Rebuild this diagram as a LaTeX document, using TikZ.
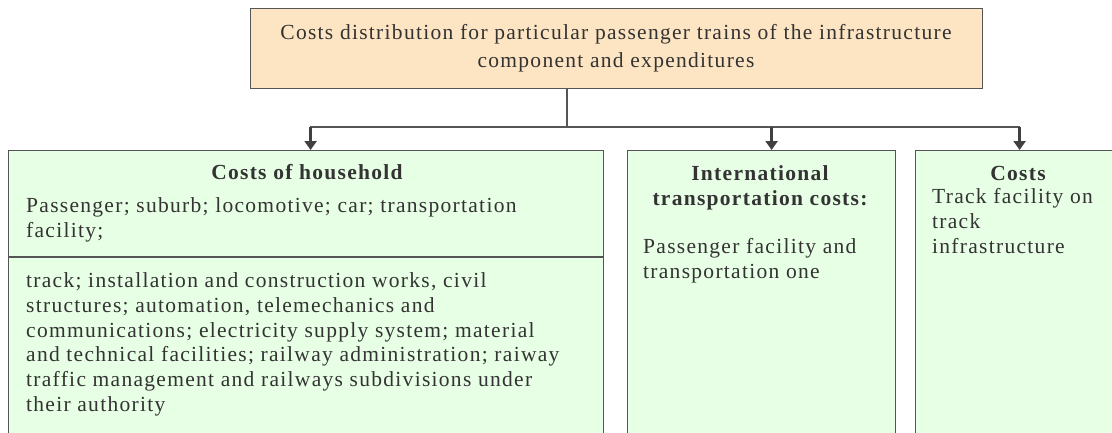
\documentclass[tikz,border=0pt]{standalone}
\usepackage{fontspec}
\setmainfont[LetterSpace=6]{Liberation Serif}
\usetikzlibrary{arrows.meta,calc}
\definecolor{peach}{HTML}{FDE4C2}
\definecolor{mint}{HTML}{E7FFE5}
\definecolor{linec}{HTML}{555555}
\definecolor{arrc}{HTML}{404040}
\definecolor{textc}{HTML}{333333}
\begin{document}
\begin{tikzpicture}[x=1pt,y=-1pt,
  box/.style={draw=linec, line width=1.2pt, fill=mint, inner sep=0pt, anchor=north west},
  topbox/.style={box, fill=peach},
  txt/.style={font=\fontsize{21.5}{24.8}\selectfont, text=textc, inner sep=0pt, align=left, anchor=base west},
  head/.style={font=\bfseries\fontsize{21.5}{25}\selectfont, text=textc, inner sep=0pt, align=center, anchor=base},
  conn/.style={draw=linec, line width=1.3pt},
  arr/.style={draw=arrc, line width=2.6pt, -{Triangle[length=9pt,width=12pt]}}]
\clip (0,0) rectangle (1112,432);
\fill[white] (0,0) rectangle (1112,432);
% boxes
\node[topbox, minimum width=732pt, minimum height=80pt] (top) at (250,8) {};
\node[box, minimum width=595pt, minimum height=300pt] (hh) at (8,150) {};
\node[box, minimum width=268pt, minimum height=300pt] (it) at (627,150) {};
\node[box, minimum width=210pt, minimum height=300pt] (cc) at (915,150) {};
\draw[conn] (hh.west |- 0,257) -- (hh.east |- 0,257);
% title
\node[txt, align=center, anchor=base, font=\fontsize{21.5}{28}\selectfont] (title) at (616,67)
  {Costs distribution for particular passenger trains of the infrastructure\\ component and expenditures};
% left box
\node[head] (hhh) at (307,179) {Costs of household};
\node[txt] (hh1) at (26,237.5) {Passenger; suburb; locomotive; car; transportation\\ facility;};
\node[txt] (hh2) at (26,411.5) {track; installation and construction works, civil\\
structures; automation, telemechanics and\\
communications; electricity supply system; material\\
and technical facilities; railway administration; raiway\\
traffic management and railways subdivisions under\\
their authority};
% middle box
\node[head] (ith) at (760,205) {International\\ transportation costs:};
\node[txt] (it1) at (643,278) {Passenger facility and\\ transportation one};
% right box
\node[head] (cch) at (1018,180) {Costs};
\node[txt] (cc1) at (932,253) {Track facility on\\ track\\ infrastructure};
% connectors
\coordinate (j) at (567,127);
\draw[conn] (top.south -| j) -- (j);
\draw[conn] (j) -| ([xshift=4.5pt,yshift=-1pt]hh.north |- j);
\draw[conn] (j) -| ([xshift=-1pt]cc.north |- j);
\draw[arr] ([xshift=4.5pt]hh.north |- j) -- ([xshift=4.5pt]hh.north);
\draw[arr] ([xshift=10pt]it.north |- j) -- ([xshift=10pt]it.north);
\draw[arr] ([xshift=-1pt]cc.north |- j) -- ([xshift=-1pt]cc.north);
\end{tikzpicture}
\end{document}
